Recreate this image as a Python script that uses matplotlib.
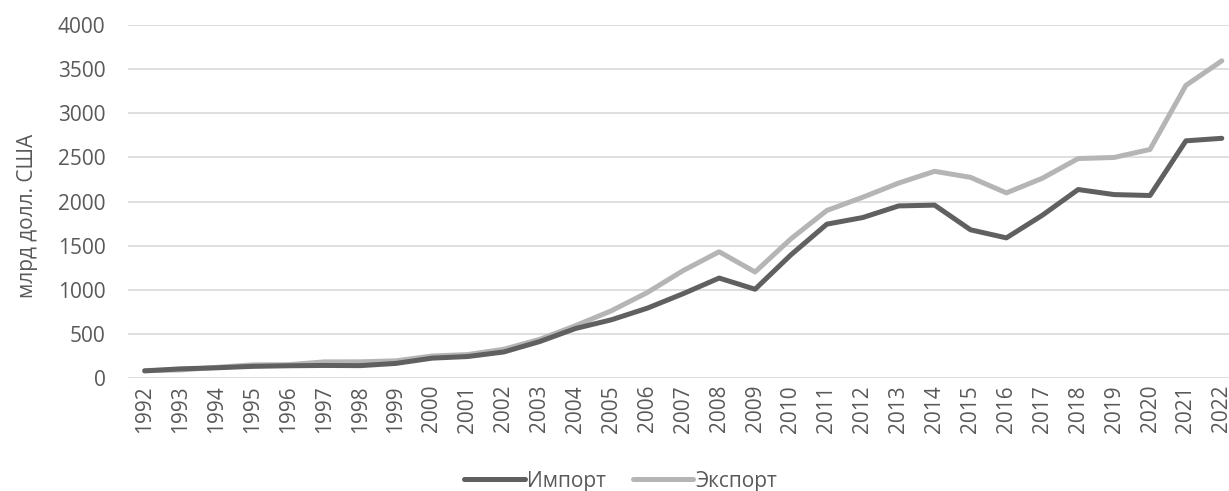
import matplotlib.pyplot as plt
import numpy as np

plt.rcParams['font.family'] = ['Open Sans', 'DejaVu Sans']

# --- DATA (млрд долл. США)
years = list(range(1992, 2023))
imports = [80.6, 104.0, 115.6, 132.1, 138.8, 142.4, 140.2, 165.7, 225.1, 243.6,
           295.2, 412.8, 561.2, 660.0, 791.5, 956.0, 1132.6, 1005.9, 1396.2, 1743.5,
           1818.4, 1950.0, 1959.0, 1679.6, 1587.9, 1843.8, 2135.7, 2078.4, 2068.0,
           2687.5, 2716.0]
exports = [84.9, 91.7, 121.0, 148.8, 151.0, 182.8, 183.7, 194.9, 249.2, 266.1,
           325.6, 438.2, 593.3, 762.0, 969.0, 1218.0, 1430.7, 1201.6, 1577.8, 1898.4,
           2048.7, 2209.0, 2342.3, 2273.5, 2097.6, 2263.3, 2486.7, 2499.0, 2590.0,
           3316.0, 3594.0]
series_names = ["Импорт", "Экспорт"]

TXT = '#595959'
FS = 15

fig = plt.figure(figsize=(12.29, 4.91), dpi=100)
ax = fig.add_axes([0.104, 0.2301, 0.896, 0.719])

ax.plot(years, imports, color='#606060', lw=3.6, label=series_names[0], solid_capstyle='round', solid_joinstyle='round', zorder=3)
ax.plot(years, exports, color='#b5b5b5', lw=3.6, label=series_names[1], solid_capstyle='round', solid_joinstyle='round', zorder=2)

ax.set_xlim(1991.53, 2022.2)
ax.set_ylim(0, 4000)
ax.set_yticks(np.arange(0, 4001, 500))
ax.set_xticks(years)
ax.set_xticklabels([str(y) for y in years], rotation=90)
ax.tick_params(axis='both', length=0, colors=TXT, labelsize=FS)
ax.tick_params(axis='x', pad=5)
ax.tick_params(axis='y', pad=16)
for s in ax.spines.values():
    s.set_visible(False)
ax.grid(axis='y', color='#d9d9d9', lw=1.2)
ax.set_axisbelow(True)

ax.set_ylabel("млрд долл. США", color=TXT, fontsize=FS)
ax.yaxis.set_label_coords(-0.0817, 0.46)

fig.legend(loc='center', bbox_to_anchor=(0.505, 0.02), ncol=2, frameon=False,
           fontsize=FS, handlelength=2.9, handletextpad=0.1, columnspacing=1.3,
           labelcolor=TXT)

plt.savefig("out.png", dpi=100)
